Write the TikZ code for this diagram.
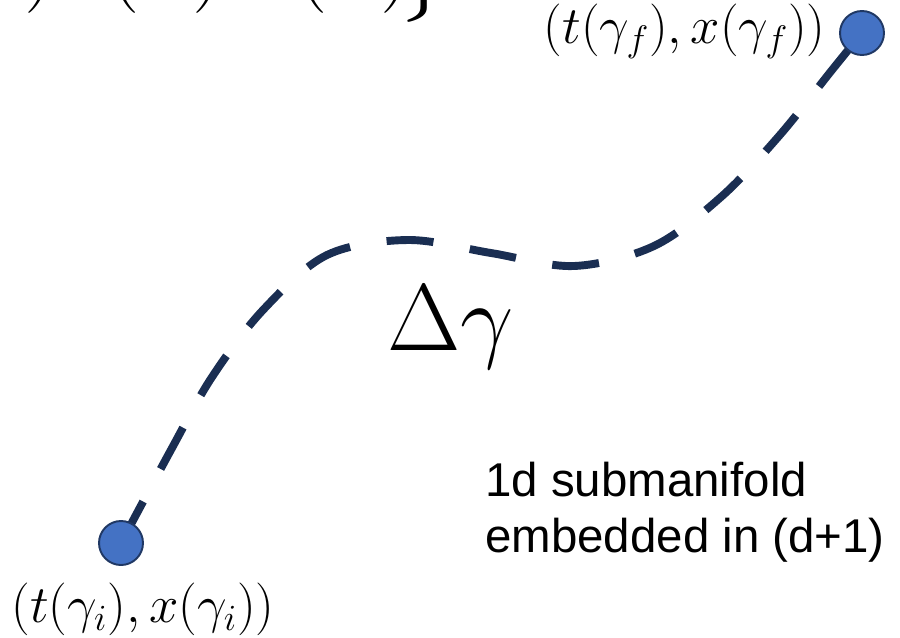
\RequirePackage{fix-cm}
\documentclass[tikz,border=0pt]{standalone}
\usepackage{amsmath,amssymb}
\usepackage{fontspec}
\newfontfamily\arialfont{Liberation Sans}
\usepackage{tikz}
\definecolor{pathnavy}{HTML}{1A2E52}
\definecolor{dotblue}{HTML}{4472C4}
\definecolor{dotedge}{HTML}{203864}
\tikzset{endpt/.style={circle,fill=dotblue,draw=dotedge,line width=1.1pt,minimum size=0.88cm,inner sep=0},
worldline/.style={pathnavy,line width=4.5pt,dash pattern=on 0.94cm off 0.74cm},
ptlabel/.style={inner sep=0,font=\fontsize{30}{34}\selectfont}}

\begin{document}
\begin{tikzpicture}[x=0.02cm,y=-0.02cm]
\useasboundingbox (0,0) rectangle (900,637);
\begin{scope}
\clip (0,0) rectangle (900,637);
\node[anchor=base west,inner sep=0,font=\fontsize{52}{56}\selectfont] (setdef) at (-146,-10) {$\bigl\{t(\lambda)x(\lambda)\;z(\lambda)\!\bigr\}$};
\end{scope}
\coordinate (gi) at (121,543);
\coordinate (gf) at (862,33);
\draw[worldline] plot[smooth,tension=.55] coordinates {(gi) (172,448) (212,377) (263,310) (327,255) (408,240) (491,253) (574,266) (654,246) (721,197) (779,136) (832,70) (gf)};
\node[endpt] (gidot) at (gi) {};
\node[endpt] (gfdot) at (gf) {};
\node[ptlabel,anchor=east] (gflabel) at (826,31) {$(t(\gamma_f),x(\gamma_f))$};
\node[ptlabel] (gilabel) at (143,609) {$(t(\gamma_i),x(\gamma_i))$};
\node[anchor=base,inner sep=0,font=\fontsize{54}{60}\selectfont] (dgamma) at (451,350) {$\Delta\gamma$};
\node[anchor=north west,inner sep=0,align=left,font=\arialfont\fontsize{27}{31.5}\selectfont] (subm) at (485,462) {1d submanifold\\embedded in (d+1)};
\end{tikzpicture}
\end{document}
